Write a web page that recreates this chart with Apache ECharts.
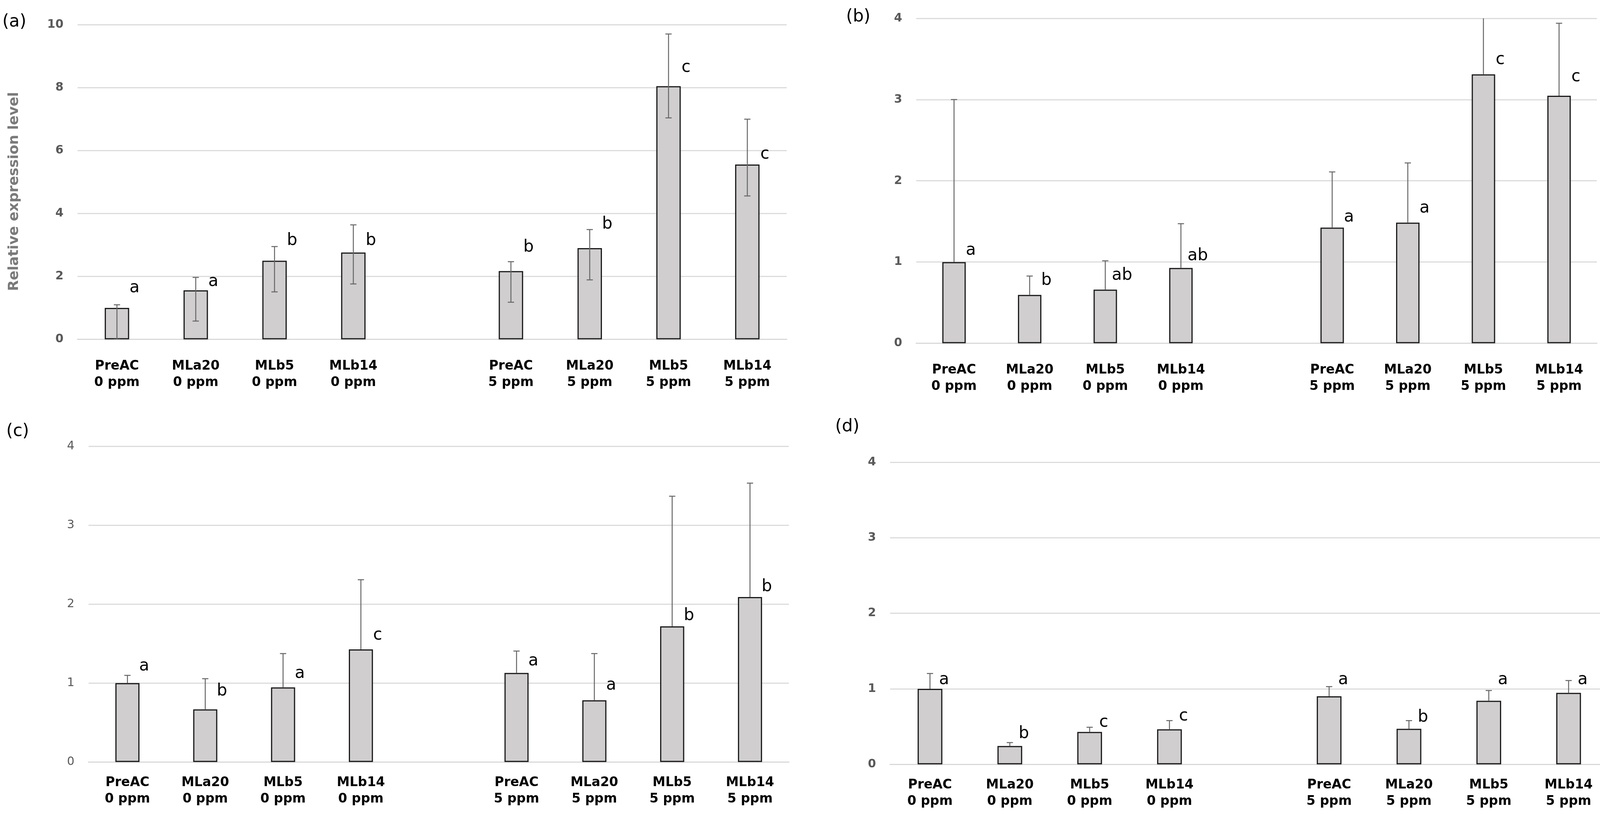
<!DOCTYPE html>
<html>
<head>
<meta charset="utf-8">
<script src="https://cdn.jsdelivr.net/npm/echarts@6/dist/echarts.min.js"></script>
<style>
html,body{margin:0;padding:0;background:#fff;}
#chart{width:4133px;height:2091px;}
</style>
</head>
<body>
<div id="chart"></div>
<script>
// ---------- data ----------
const categories = ["PreAC\n0 ppm","MLa20\n0 ppm","MLb5\n0 ppm","MLb14\n0 ppm","","PreAC\n5 ppm","MLa20\n5 ppm","MLb5\n5 ppm","MLb14\n5 ppm"];

const meanA    = [1.00, 1.56, 2.50, 2.76, null, 2.17, 2.90, 8.05, 5.56];
const errHighA = [1.10, 1.97, 2.95, 3.64, null, 2.47, 3.49, 9.71, 7.00];
const errLowA  = [0.00, 0.58, 1.51, 1.76, null, 1.18, 1.89, 7.04, 4.56];
const lettersA = ["a","a","b","b","","b","b","c","c"];
const letterYA = [1.63, 1.83, 3.14, 3.14, null, 2.92, 3.66, 8.64, 5.88];

const meanB    = [1.00, 0.596, 0.66, 0.928, null, 1.424, 1.485, 3.31, 3.047];
const errHighB = [3.00, 0.828, 1.015, 1.472, null, 2.11, 2.22, 4.10, 3.94];
const lettersB = ["a","b","ab","ab","","a","a","c","c"];
const letterYB = [1.143, 0.773, 0.834, 1.076, null, 1.552, 1.66, 3.49, 3.28];

const meanC    = [1.00, 0.667, 0.945, 1.426, null, 1.128, 0.782, 1.718, 2.09];
const errHighC = [1.098, 1.055, 1.373, 2.308, null, 1.406, 1.373, 3.366, 3.532];
const lettersC = ["a","b","a","c","","a","a","b","b"];
const letterYC = [1.214, 0.896, 1.121, 1.602, null, 1.28, 0.972, 1.85, 2.216];

const meanD    = [1.00, 0.243, 0.430, 0.464, null, 0.901, 0.471, 0.842, 0.946];
const errHighD = [1.203, 0.288, 0.492, 0.579, null, 1.029, 0.579, 0.977, 1.109];
const lettersD = ["a","b","c","c","","a","b","a","a"];
const letterYD = [1.116, 0.406, 0.555, 0.638, null, 1.116, 0.624, 1.116, 1.116];

const yTicksA = {min:0, max:10, interval:2};
const yTicksBCD = {min:0, max:4, interval:1};

// ---------- layout / style ----------
const panels = [
  {tag:"(a)", mean:meanA, hi:errHighA, lo:errLowA, letters:lettersA, ly:letterYA, ticks:yTicksA,
   grid:{left:198.5, right:2119, top:63.6, bottom:1222.5}, labelMargin:48, tickBold:true, dx:45,
   tagPos:{x:6, y:57}},
  {tag:"(b)", mean:meanB, hi:errHighB, lo:null, letters:lettersB, ly:letterYB, ticks:yTicksBCD,
   grid:{left:2345.5, right:45, top:46.9, bottom:1212.4}, labelMargin:48, tickBold:true, dx:43,
   tagPos:{x:2166, y:44}},
  {tag:"(c)", mean:meanC, hi:errHighC, lo:null, letters:lettersC, ly:letterYC, ticks:yTicksBCD,
   grid:{left:226.6, right:2113.4, top:1141.9, bottom:140.7}, labelMargin:32, tickBold:false, dx:43,
   tagPos:{x:16, y:1105}},
  {tag:"(d)", mean:meanD, hi:errHighD, lo:null, letters:lettersD, ly:letterYD, ticks:yTicksBCD,
   grid:{left:2278.6, right:15.2, top:1182.8, bottom:134.7}, labelMargin:32, tickBold:true, dx:36,
   tagPos:{x:2138, y:1093}}
];

const FONT = '"DejaVu Sans", Verdana, sans-serif';
const grids = [], xAxes = [], yAxes = [], series = [], graphics = [];

panels.forEach((p, k) => {
  grids.push(Object.assign({containLabel:false}, p.grid));
  xAxes.push({
    type:'category', gridIndex:k, data:categories,
    axisLine:{show:true, lineStyle:{color:'#d9d9d9', width:3}},
    axisTick:{show:false},
    axisLabel:{color:'#000', fontWeight:'bold', fontSize:33, lineHeight:42, margin:p.labelMargin, fontFamily:FONT, interval:0}
  });
  yAxes.push({
    type:'value', gridIndex:k, min:p.ticks.min, max:p.ticks.max, interval:p.ticks.interval,
    axisLine:{show:false}, axisTick:{show:false},
    splitLine:{show:true, lineStyle:{color:'#dcdcdc', width:3}},
    axisLabel:{color:'#595959', fontWeight:p.tickBold?'bold':'normal', fontSize:30, margin:36, fontFamily:FONT}
  });
  series.push({
    type:'bar', xAxisIndex:k, yAxisIndex:k, data:p.mean, barWidth:'31%', z:2,
    itemStyle:{color:'#d0cece', borderColor:'#1a1a1a', borderWidth:3},
    emphasis:{disabled:true}, silent:true
  });
  const errData = [];
  p.mean.forEach((m, i) => {
    if (m === null) return;
    const lo = p.lo ? p.lo[i] : m;
    errData.push([i, p.hi[i], lo, p.lo ? 1 : 0]);
  });
  series.push({
    type:'custom', xAxisIndex:k, yAxisIndex:k, z:3, clip:true, silent:true,
    data:errData,
    encode:{x:0, y:[1,2]},
    renderItem:function(params, api){
      const i = api.value(0);
      const pHi = api.coord([i, api.value(1)]);
      const pLo = api.coord([i, api.value(2)]);
      const hasLow = api.value(3) === 1;
      const cw = 8;
      const st = {stroke:'#676767', lineWidth:2.5};
      const ch = [
        {type:'line', shape:{x1:pHi[0], y1:pHi[1], x2:pLo[0], y2:pLo[1]}, style:st},
        {type:'line', shape:{x1:pHi[0]-cw, y1:pHi[1], x2:pHi[0]+cw, y2:pHi[1]}, style:st}
      ];
      if (hasLow) ch.push({type:'line', shape:{x1:pLo[0]-cw, y1:pLo[1], x2:pLo[0]+cw, y2:pLo[1]}, style:st});
      return {type:'group', children:ch};
    }
  });
  const letData = [];
  p.ly.forEach((v, i) => { if (v !== null) letData.push([i, v]); });
  const letters = p.letters, dx = p.dx;
  series.push({
    type:'custom', xAxisIndex:k, yAxisIndex:k, z:4, silent:true,
    data:letData,
    encode:{x:0, y:1},
    renderItem:function(params, api){
      const i = api.value(0);
      const pt = api.coord([i, api.value(1)]);
      return {type:'text', x:pt[0]+dx, y:pt[1],
        style:{text:letters[i], fill:'#000', fontSize:42, fontFamily:FONT, align:'center', verticalAlign:'middle'}};
    }
  });
  graphics.push({type:'text', x:p.tagPos.x, y:p.tagPos.y,
    style:{text:p.tag, fill:'#000', fontSize:44, fontFamily:FONT, align:'left', verticalAlign:'middle'}});
});

graphics.push({type:'text', x:37, y:490, rotation:Math.PI/2,
  style:{text:'Relative expression level', fill:'#7a7a7a', fontSize:36, fontWeight:'bold', fontFamily:FONT,
         align:'center', verticalAlign:'middle'}});

const chart = echarts.init(document.getElementById('chart'), null, {renderer:'canvas'});
chart.setOption({
  backgroundColor:'#fff',
  animation:false,
  textStyle:{fontFamily:FONT},
  grid:grids, xAxis:xAxes, yAxis:yAxes, series:series, graphic:graphics
});
</script>
</body>
</html>
